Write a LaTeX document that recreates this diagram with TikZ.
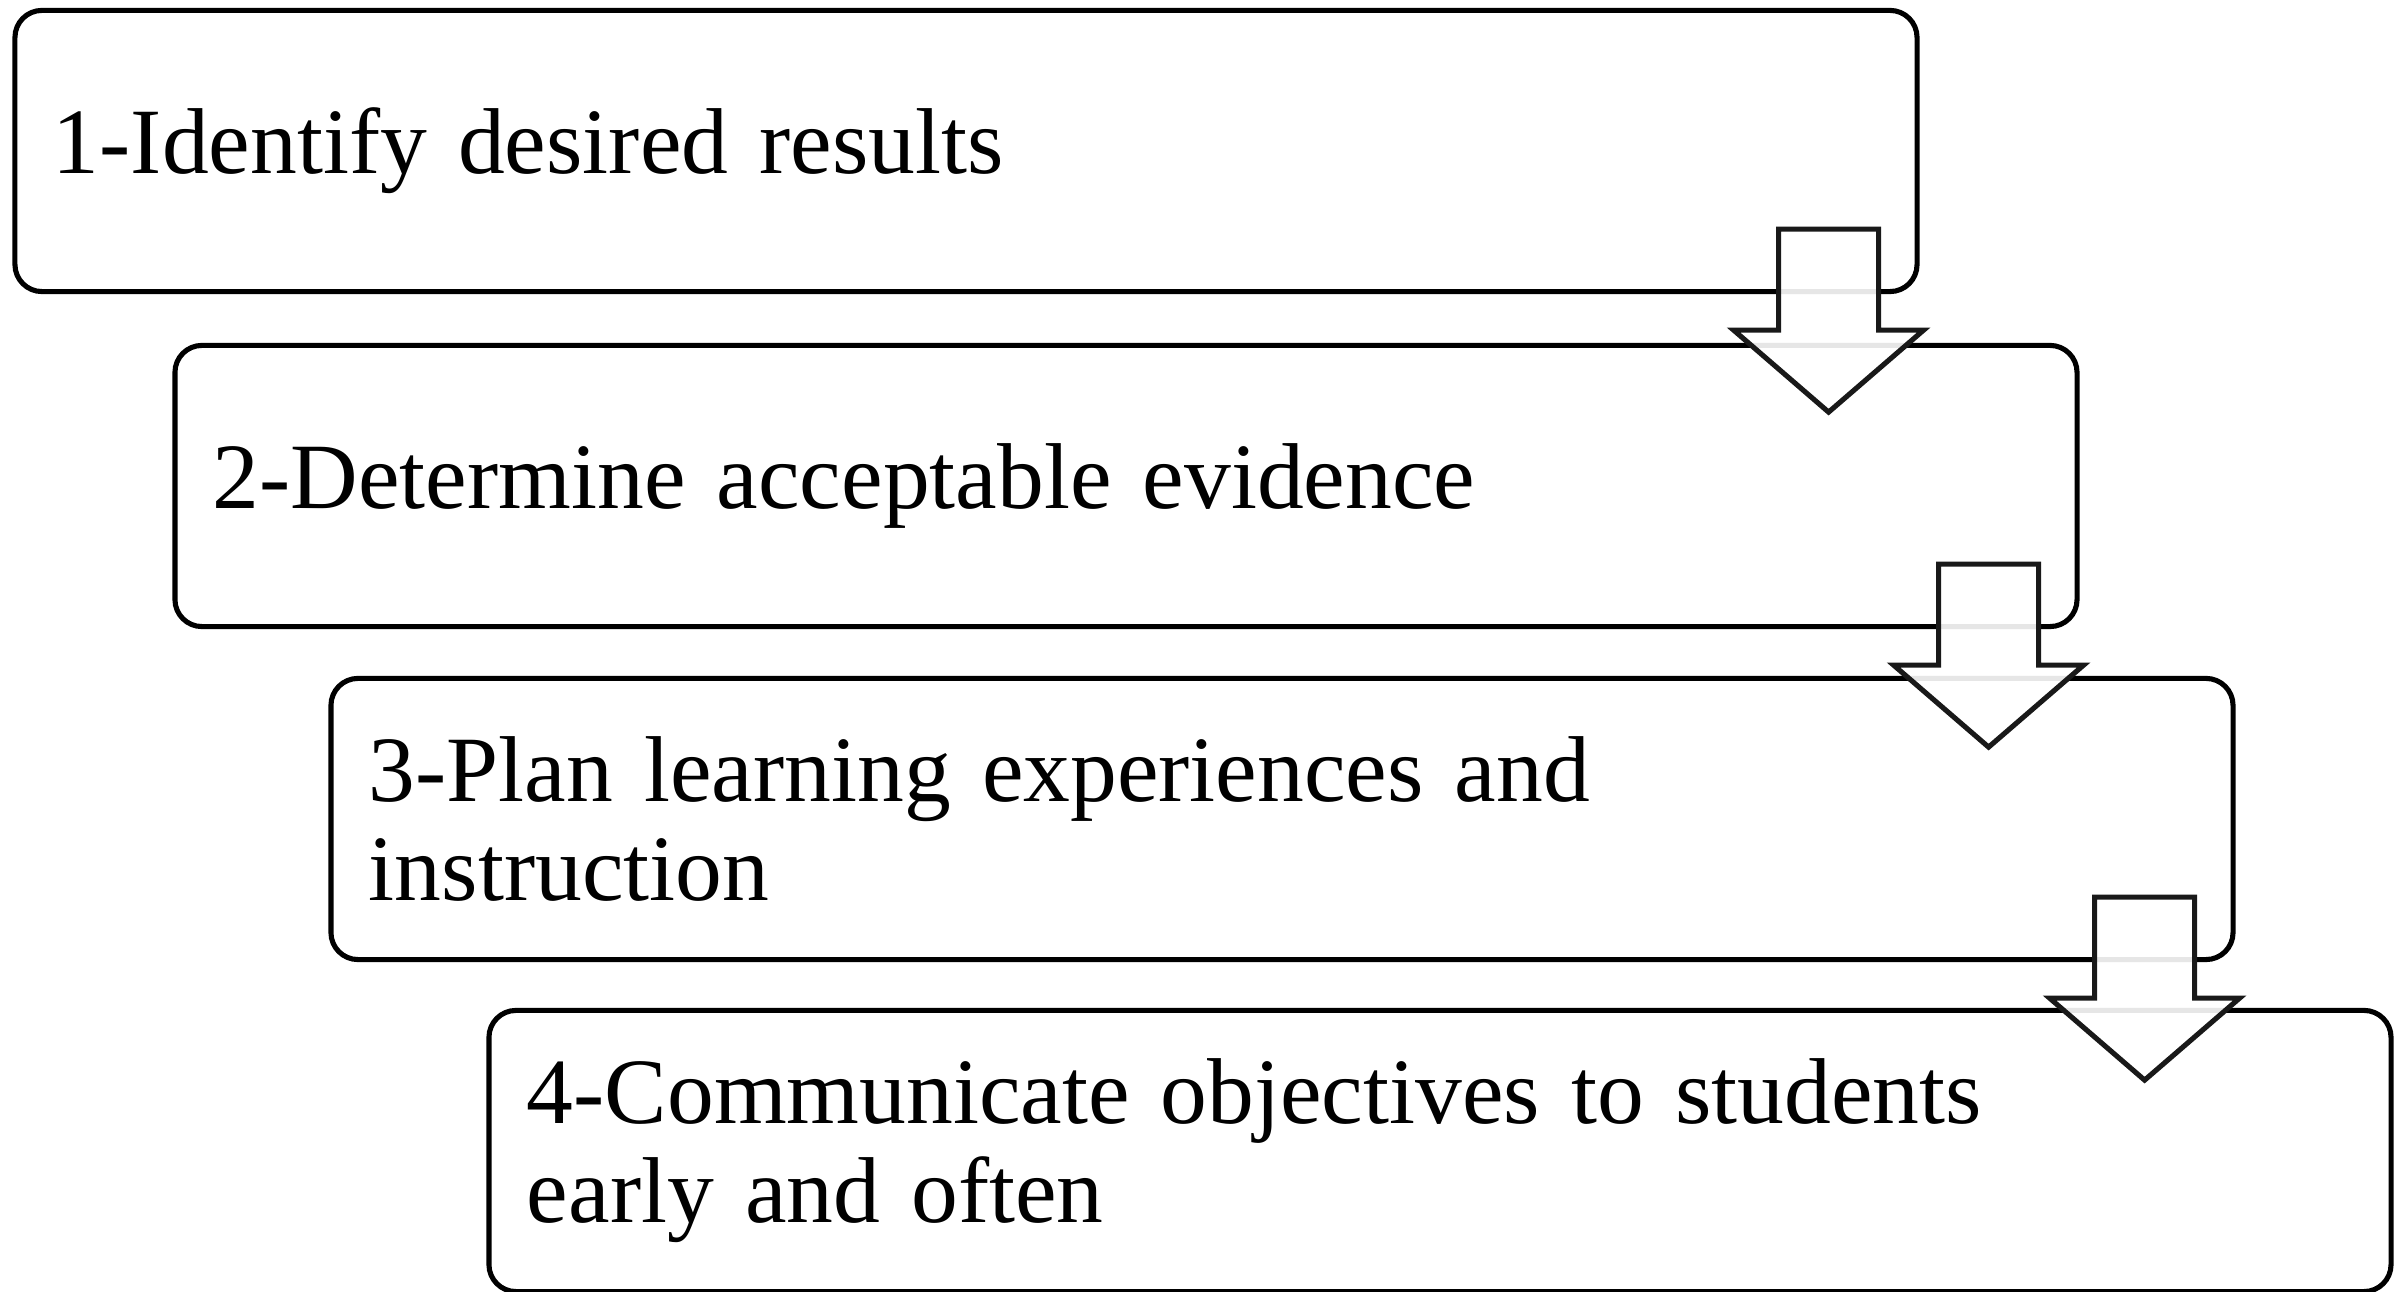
\documentclass[tikz,border=0pt]{standalone}
\usepackage{fontspec}
\setmainfont{Liberation Serif}
\usetikzlibrary{calc}

\tikzset{
  stagebox/.style={
    draw=black, line width=1.45pt, rounded corners=0.27cm, fill=white,
    minimum width=19.01cm, minimum height=2.81cm,
    text width=18.25cm, inner xsep=0.38cm, inner ysep=0pt, align=left,
    font=\fontsize{26.6}{28.2}\selectfont
  },
  downarrow/.style={
    draw=black!90, line width=1.45pt, fill=white, fill opacity=0.9,
    line join=miter
  }
}
% single-line labels sit a little below the box centre
\newcommand\lowline[1]{\raisebox{-0.06cm}{#1}}

\begin{document}
\begin{tikzpicture}[x=0.01cm, y=-0.01cm]
  \useasboundingbox (0,0) rectangle (2396,1292);

  % the four stages, each shifted right and down
  \node[stagebox] (b1) at (966,151)  {\lowline{1-Identify desired results}};
  \node[stagebox] (b2) at (1126,486) {\lowline{2-Determine acceptable evidence}};
  \node[stagebox] (b3) at (1282,819) {3-Plan learning experiences and\\instruction};
  \node[stagebox] (b4) at (1440,1151) {4-Communicate objectives to students\\early and often};

  % block arrows leading from one stage to the next
  \foreach \a/\b in {b1/b2, b2/b3, b3/b4} {
    \begin{scope}[shift={($(\a.south east)+(-91,-65)$)}]
      \draw[downarrow] (-50,0) -- (50,0) -- (50,101) -- (95,101)
        -- (0,183) -- (-95,101) -- (-50,101) -- cycle;
    \end{scope}
  }
\end{tikzpicture}
\end{document}
